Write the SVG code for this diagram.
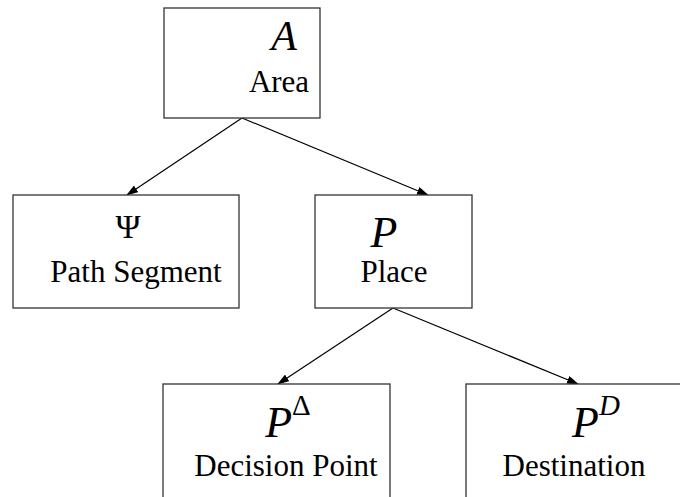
<svg xmlns="http://www.w3.org/2000/svg" width="680" height="497" viewBox="0 0 680 497">
  <style>
    .box { fill: #ffffff; stroke: #333333; stroke-width: 1.3; }
    .edge { stroke: #000; stroke-width: 1.2; fill: none; marker-end: url(#arrow); }
  </style>
  <defs>
    <marker id="arrow" markerWidth="12" markerHeight="8" refX="11" refY="4" orient="auto" markerUnits="userSpaceOnUse">
      <path d="M0,0 L12,4 L0,8 Z" fill="#000"/>
    </marker>
  </defs>

  <g id="connectors">
    <line class="edge" x1="242" y1="118" x2="127" y2="195"/>
    <line class="edge" x1="242" y1="118" x2="428" y2="195"/>
    <line class="edge" x1="393" y1="308" x2="278" y2="384"/>
    <line class="edge" x1="393" y1="308" x2="578" y2="384"/>
  </g>

  <g font-family="Liberation Serif, serif" text-anchor="middle" fill="#000">
    <g id="area">
      <rect class="box" x="164" y="8" width="156" height="110"/>
      <text x="284" y="50" font-size="42" font-style="italic">A</text>
      <text x="279" y="92" font-size="31">Area</text>
    </g>

    <g id="path-segment">
      <rect class="box" x="13" y="195" width="226" height="113"/>
      <text x="128" y="238" font-size="34">Ψ</text>
      <text x="136" y="282" font-size="31">Path Segment</text>
    </g>

    <g id="place">
      <rect class="box" x="315" y="195" width="157" height="113"/>
      <text x="384" y="247" font-size="44" font-style="italic">P</text>
      <text x="394" y="282" font-size="31">Place</text>
    </g>

    <g id="decision-point">
      <rect class="box" x="163" y="384" width="227" height="120"/>
      <text x="288" y="437" font-size="44" font-style="italic">P<tspan font-size="29" font-style="normal" dy="-22">Δ</tspan></text>
      <text x="286" y="476" font-size="31">Decision Point</text>
    </g>

    <g id="destination">
      <rect class="box" x="466" y="384" width="220" height="120"/>
      <text x="596" y="437" font-size="44" font-style="italic">P<tspan font-size="29" dy="-22">D</tspan></text>
      <text x="574" y="476" font-size="31">Destination</text>
    </g>
  </g>
</svg>
